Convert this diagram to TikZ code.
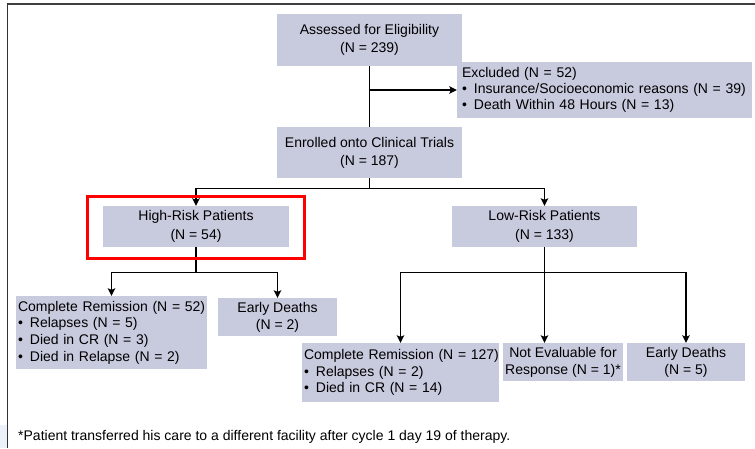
\documentclass[tikz,border=0pt]{standalone}
\usepackage{fontspec}
\setmainfont{Liberation Sans}
\usetikzlibrary{arrows.meta,calc}
\definecolor{boxc}{RGB}{200,202,222}
\definecolor{edgec}{RGB}{236,240,248}
\newcommand{\oneline}[1]{\mbox{#1}}
\tikzset{
  box/.style={fill=boxc, inner sep=0pt, align=center, font=\fontsize{14}{17}\selectfont},
  bigbox/.style={box, font=\fontsize{14}{18.5}\selectfont},
  lbox/.style={fill=boxc, inner xsep=2pt, inner ysep=0pt, align=left, font=\fontsize{14}{16.7}\selectfont},
  conn/.style={line width=1.3pt, black},
  arr/.style={conn, -{Stealth[length=7.5pt,width=7.5pt,inset=1.5pt]}},
}
\begin{document}
\begin{tikzpicture}[x=1pt,y=-1pt]
\useasboundingbox (0,0) rectangle (755,448);
\fill[edgec] (0,425) rectangle (7,448);
\draw[line width=2pt, black!75] (7,3.5) -- (755,3.5);
\draw[line width=1pt, black!80] (7,3) -- (7,448);

\node[bigbox, minimum width=185pt, minimum height=52pt] (A) at (369.5,40) {Assessed for Eligibility\\(N = 239)};
\node[lbox, inner xsep=5pt, minimum width=295pt, minimum height=56pt, text width=285pt, font=\fontsize{14}{16}\selectfont] (X) at (604.5,90) {\oneline{Excluded (N = 52)}\\\oneline{\textbullet\enspace Insurance/Socioeconomic reasons (N = 39)}\\\oneline{\textbullet\enspace Death Within 48 Hours (N = 13)}};
\node[bigbox, minimum width=185pt, minimum height=51pt, font=\fontsize{14}{18}\selectfont] (E) at (369.5,152.5) {Enrolled onto Clinical Trials\\(N = 187)};
\node[bigbox, minimum width=186pt, minimum height=41pt] (H) at (196,226.5) {High-Risk Patients\\(N = 54)};
\node[bigbox, minimum width=185pt, minimum height=41pt] (L) at (544.5,226.5) {Low-Risk Patients\\(N = 133)};
\node[lbox, minimum width=191pt, minimum height=73pt, text width=187pt] (C1) at (111.5,332.5) {\oneline{Complete Remission (N = 52)}\\\oneline{\textbullet\enspace Relapses (N = 5)}\\\oneline{\textbullet\enspace Died in CR (N = 3)}\\\oneline{\textbullet\enspace Died in Relapse (N = 2)}};
\node[box, minimum width=119pt, minimum height=38pt] (D1) at (277.5,317) {Early Deaths\\(N = 2)};
\node[lbox, minimum width=197pt, minimum height=59pt, text width=193pt] (C2) at (400.5,372.5) {\oneline{Complete Remission (N = 127)}\\\oneline{\textbullet\enspace Relapses (N = 2)}\\\oneline{\textbullet\enspace Died in CR (N = 14)}};
\node[box, minimum width=120pt, minimum height=38pt] (NE) at (563,362) {Not Evaluable for\\Response (N = 1)*};
\node[box, minimum width=118pt, minimum height=38pt] (D2) at (686,362) {Early Deaths\\(N = 5)};
\node[anchor=west, inner sep=0pt, font=\fontsize{14}{17}\selectfont] (F) at (18,437) {*Patient transferred his care to a different facility after cycle 1 day 19 of therapy.};

\coordinate (ax) at (A.south |- X.west);
\draw[conn] (A.south) -- (E.north);
\draw[arr] (ax) -- (X.west);

\coordinate (eb) at ($(E.south)+(0,10)$);
\draw[conn] (E.south) -- (eb);
\draw[arr] (eb) -| (H.north);
\draw[arr] (eb) -| (L.north);

\coordinate (hb) at ($(H.south)+(0,25)$);
\draw[conn] (H.south) -- (hb);
\draw[arr] (hb) -| (C1.north);
\draw[arr] (hb) -| (D1.north);

\coordinate (lb) at ($(L.south)+(0,25)$);
\draw[conn] (L.south) -- (lb);
\draw[arr] (lb) -| (C2.north);
\draw[arr] (lb) -- (L.south |- NE.north);
\draw[arr] (lb) -| (D2.north);

\draw[red, line width=3.5pt] (87.5,196.5) rectangle (304.5,258.5);
\end{tikzpicture}
\end{document}
